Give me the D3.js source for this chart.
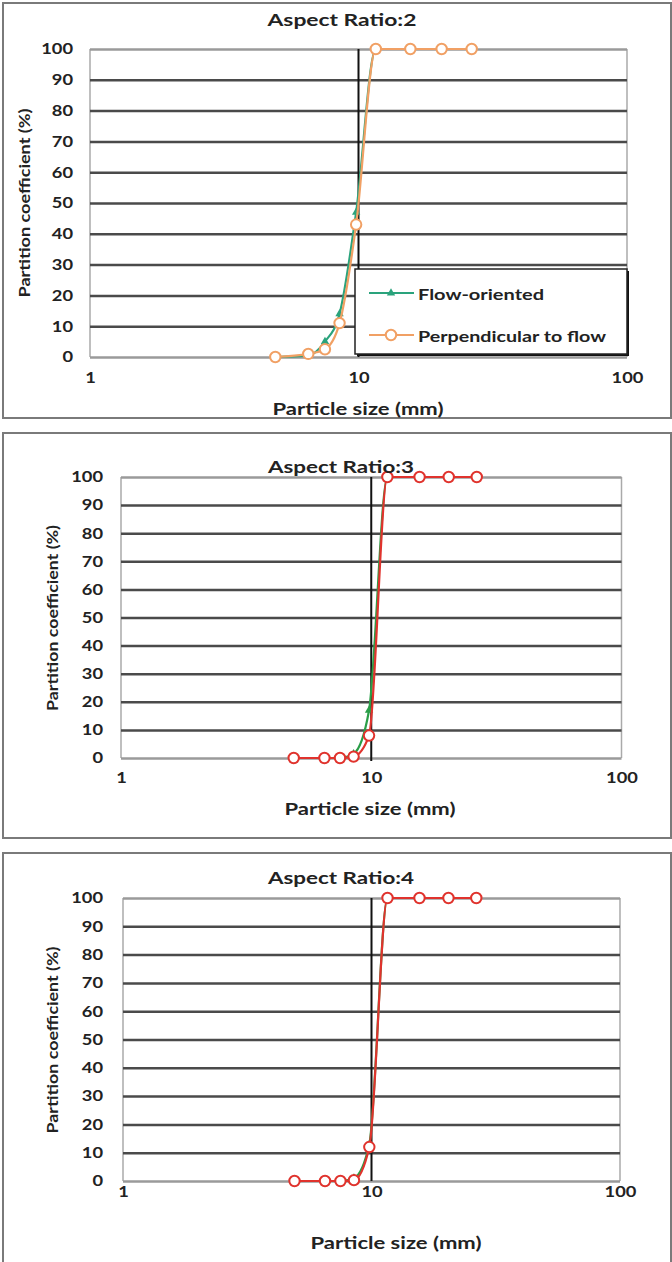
<!DOCTYPE html>
<html><head><meta charset="utf-8">
<script src="https://cdn.jsdelivr.net/npm/d3@7"></script>
<style>body{margin:0;background:#fff;} text{font-family:Lato,"Open Sans",sans-serif;font-weight:bold;fill:#222;}</style>
</head><body>
<svg id="c" width="672" height="1262"></svg>
<script>
const sizes = [4.9, 6.5, 7.5, 8.5, 9.8, 11.6, 15.6, 20.4, 26.4];
const ar2Flow = [0, 0.5, 5, 14, 47, 100, 100, 100, 100];
const ar2Perp = [0, 1, 2.5, 11, 43, 100, 100, 100, 100];
const ar3Flow = [0, 0, 0, 1.5, 17, 100, 100, 100, 100];
const ar3Perp = [0, 0, 0, 0.5, 8, 100, 100, 100, 100];
const ar4Flow = [0, 0, 0, 1, 13, 100, 100, 100, 100];
const ar4Perp = [0, 0, 0, 0.3, 12, 100, 100, 100, 100];
const titles = ["Aspect Ratio:2", "Aspect Ratio:3", "Aspect Ratio:4"];
const seriesNames = ["Flow-oriented", "Perpendicular to flow"];
const xTicks = [1, 10, 100];
const yTicks = [0, 10, 20, 30, 40, 50, 60, 70, 80, 90, 100];
const refSize = 10;

const svg = d3.select("#c");
const fit = (sel, w) => sel.attr("textLength", w).attr("lengthAdjust", "spacingAndGlyphs");

const panels = [
  {frame:[3,3,668,415], plot:[90,627,49,357], title:[342,19,149], xt:[358,408,171], yt:[23,203,189], tickPadX:23, tickPadY:17,
   flow:ar2Flow, perp:ar2Perp, flowColor:"#2aa37c", perpColor:"#f1a064", refEnd:"legend", legend:true},
  {frame:[3,433,668,405], plot:[121,621.5,477,758], title:[341,466,146], xt:[370,808,171], yt:[51,618,186], tickPadX:22, tickPadY:18,
   flow:ar3Flow, perp:ar3Perp, flowColor:"#2a9e48", perpColor:"#e0332d", refEnd:3},
  {frame:[3,853,668,415], plot:[123,620,898,1181], title:[341,877,146], xt:[396,1242,171], yt:[51,1040,187], tickPadX:13, tickPadY:20,
   flow:ar4Flow, perp:ar4Perp, flowColor:"#2a9e48", perpColor:"#e0332d", refEnd:0}
];

panels.forEach((p, i) => {
  const g = svg.append("g");
  const [fx, fy, fw, fh] = p.frame;
  g.append("rect").attr("x", fx).attr("y", fy).attr("width", fw).attr("height", fh)
    .attr("fill", "#fff").attr("stroke", "#7a7a7a").attr("stroke-width", 2);
  const [x0, x1, y0, y1] = p.plot;
  const x = d3.scaleLog().domain([1, 100]).range([x0, x1]);
  const y = d3.scaleLinear().domain([0, 100]).range([y1, y0]);

  g.append("line").attr("x1", x0).attr("x2", x0).attr("y1", y0).attr("y2", y1).attr("stroke", "#aaa").attr("stroke-width", 1.5);
  g.append("line").attr("x1", x1).attr("x2", x1).attr("y1", y0).attr("y2", y1).attr("stroke", "#aaa").attr("stroke-width", 1.5);

  const grid = g.append("g").attr("transform", `translate(${x0},0)`)
    .call(d3.axisLeft(y).tickValues(yTicks).tickSize(-(x1 - x0)).tickFormat(""));
  grid.select(".domain").remove();
  grid.selectAll(".tick line").attr("stroke", d => (d === 0 || d === 100) ? "#9a9a9a" : "#4a4a4a")
    .attr("stroke-width", 2.5);

  const ya = g.append("g").attr("transform", `translate(${x0},0)`)
    .call(d3.axisLeft(y).tickValues(yTicks).tickSize(0).tickPadding(p.tickPadY));
  ya.select(".domain").remove();
  ya.selectAll("text").attr("font-size", 15).attr("font-family", "Lato").attr("font-weight", "bold").attr("fill", "#222")
    .each(function(d){ fit(d3.select(this), String(d).length * 10.6); });

  const xa = g.append("g").attr("transform", `translate(0,${y1})`)
    .call(d3.axisBottom(x).tickValues(xTicks).tickSize(0).tickPadding(p.tickPadX - 8).tickFormat(d3.format("d")));
  xa.select(".domain").remove();
  xa.selectAll("text").attr("font-size", 15).attr("font-family", "Lato").attr("font-weight", "bold").attr("fill", "#222")
    .each(function(d){ fit(d3.select(this), String(d).length * 10.6); });

  g.append("line").attr("x1", x(refSize)).attr("x2", x(refSize)).attr("y1", y0)
    .attr("y2", p.refEnd === "legend" ? y1 : y1 + p.refEnd)
    .attr("stroke", "#111").attr("stroke-width", 2);

  const line = d3.line().x(d => x(d[0])).y(d => y(d[1])).curve(d3.curveMonotoneX);
  const flowPts = sizes.map((s, k) => [s, p.flow[k]]);
  const perpPts = sizes.map((s, k) => [s, p.perp[k]]);
  const tri = d3.symbol().type(d3.symbolTriangle).size(30);

  g.append("path").attr("d", line(flowPts)).attr("fill", "none").attr("stroke", p.flowColor).attr("stroke-width", 2.2);
  g.selectAll(".tri").data(flowPts).join("path").attr("class", "tri")
    .attr("transform", d => `translate(${x(d[0])},${y(d[1])})`).attr("d", tri).attr("fill", p.flowColor);
  g.append("path").attr("d", line(perpPts)).attr("fill", "none").attr("stroke", p.perpColor).attr("stroke-width", 2.2);
  g.selectAll(".circ").data(perpPts).join("circle").attr("class", "circ")
    .attr("cx", d => x(d[0])).attr("cy", d => y(d[1])).attr("r", 5.2)
    .attr("fill", "#fff").attr("stroke", p.perpColor).attr("stroke-width", 2);

  fit(g.append("text").attr("x", p.title[0]).attr("y", p.title[1]).attr("text-anchor", "middle")
    .attr("dominant-baseline", "central").attr("font-size", 17).text(titles[i]), p.title[2]);
  fit(g.append("text").attr("x", p.xt[0]).attr("y", p.xt[1]).attr("text-anchor", "middle")
    .attr("dominant-baseline", "central").attr("font-size", 17).text("Particle size (mm)"), p.xt[2]);
  fit(g.append("text").attr("transform", `translate(${p.yt[0]},${p.yt[1]}) rotate(-90)`).attr("text-anchor", "middle")
    .attr("dominant-baseline", "central").attr("font-size", 16).text("Partition coefficient (%)"), p.yt[2]);

  if (p.legend) {
    const lx0 = 355, lx1 = x1, ly0 = 269, ly1 = 354;
    g.append("rect").attr("x", lx0 + 2).attr("y", ly0 + 2).attr("width", lx1 - lx0).attr("height", ly1 - ly0).attr("fill", "#111");
    g.append("rect").attr("x", lx0).attr("y", ly0).attr("width", lx1 - lx0).attr("height", ly1 - ly0)
      .attr("fill", "#fff").attr("stroke", "#222").attr("stroke-width", 1.5);
    const rows = [[293, p.flowColor, "tri", 126], [335, p.perpColor, "circ", 188]];
    rows.forEach((r, k) => {
      g.append("line").attr("x1", 369).attr("x2", 414).attr("y1", r[0]).attr("y2", r[0]).attr("stroke", r[1]).attr("stroke-width", 2.2);
      if (r[2] === "tri") g.append("path").attr("transform", `translate(391,${r[0]})`).attr("d", tri).attr("fill", r[1]);
      else g.append("circle").attr("cx", 391).attr("cy", r[0]).attr("r", 5.2).attr("fill", "#fff").attr("stroke", r[1]).attr("stroke-width", 2);
      fit(g.append("text").attr("x", 418).attr("y", r[0]).attr("dominant-baseline", "central").attr("font-size", 16).text(seriesNames[k]), r[3]);
    });
  }
});
</script>
</body></html>
